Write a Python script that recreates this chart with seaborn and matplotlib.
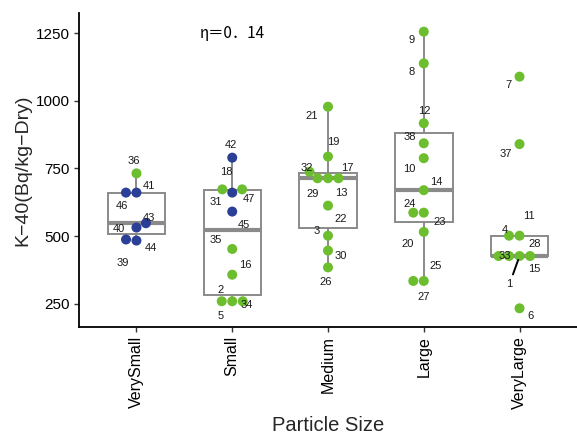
import matplotlib
matplotlib.use("Agg")
import matplotlib.pyplot as plt
import numpy as np
import pandas as pd
import seaborn as sns

# ---- data -----------------------------------------------------------------
categories = ["VerySmall", "Small", "Medium", "Large", "VeryLarge"]

sample_ids = list(range(1, 48))
sizes = [
    "VeryLarge", "Small", "Medium", "VeryLarge", "Small",            # 1-5
    "VeryLarge", "VeryLarge", "Large", "Large", "Large",             # 6-10
    "VeryLarge", "Large", "Medium", "Large", "VeryLarge",            # 11-15
    "Small", "Medium", "Small", "Medium", "Large",                   # 16-20
    "Medium", "Medium", "Large", "Large", "Large",                   # 21-25
    "Medium", "Large", "VeryLarge", "Medium", "Medium",              # 26-30
    "Small", "Medium", "VeryLarge", "Small", "Small",                # 31-35
    "VerySmall", "VeryLarge", "Large", "VerySmall", "VerySmall",     # 36-40
    "VerySmall", "Small", "VerySmall", "VerySmall", "Small",         # 41-45
    "VerySmall", "Small",                                            # 46-47
]
k40 = [
    427, 260, 502, 502, 260,
    234, 1089, 1138, 1255, 788,
    502, 917, 714, 670, 427,
    358, 714, 673, 794, 516,
    978, 613, 587, 587, 335,
    385, 335, 427, 714, 447,
    661, 738, 427, 260, 453,
    732, 840, 843, 484, 532,
    661, 790, 548, 488, 591,
    661, 673,
]
groups = [
    "A", "A", "A", "A", "A",
    "A", "A", "A", "A", "A",
    "A", "A", "A", "A", "A",
    "A", "A", "A", "A", "A",
    "A", "A", "A", "A", "A",
    "A", "A", "A", "A", "A",
    "B", "A", "A", "A", "A",
    "A", "A", "A", "B", "B",
    "B", "B", "B", "B", "B",
    "B", "A",
]
eta_text = "η＝0．14"

# ---- styling ----------------------------------------------------------------
group_colors = {"A": "#6DBE2E", "B": "#2B3F96"}
box_gray = "#8a8a8a"

# label placement around each point (pixels, x right / y up)
label_offsets = {
    36: (-3, 12), 41: (12, 7), 46: (-15, -13), 43: (12, 5),
    40: (-18, -1.5), 44: (14, -8.5), 39: (-14, -22.6),
    42: (-1, 13), 18: (-6, 17), 31: (-16, -9.4), 47: (17, -10),
    45: (12, -13.7), 35: (-16, 9), 16: (13, 9.6), 2: (-12, 11),
    34: (15, -4), 5: (-12, -14.5),
    21: (-16, -9), 19: (5, 15), 32: (-21, 3.4), 17: (19, 10.6),
    29: (-15, -16), 13: (13, -15), 22: (13, -13.7), 3: (-11, 4.8),
    30: (13, -5.3), 26: (-2, -14.5),
    9: (-12, -8), 8: (-12, -8.6), 12: (1, 12), 38: (-14, 6),
    10: (-14, -11), 14: (13, 8.5), 24: (-14, 9), 23: (16, -9.3),
    20: (-16, -12.3), 25: (12, 15), 27: (0, -16),
    7: (-11, -8.7), 37: (-14, -10.3), 11: (9, 20), 4: (-15, 5.5),
    28: (15, 12.5), 33: (-15, 0), 15: (15, -13), 1: (-10, -28),
    6: (11, -7.5),
}
leader_ids = {1}

sns.set_theme(style="ticks")
plt.rcParams["font.family"] = ["Liberation Sans", "DejaVu Sans"]

df = pd.DataFrame({"id": sample_ids, "size": sizes, "k40": k40, "group": groups})
df = df.sort_values("group", kind="stable")

fig = plt.figure(figsize=(5.77, 4.37), dpi=100)
ax = fig.add_axes([79 / 577, 1 - 327 / 437, 498 / 577, (327 - 12.7) / 437])

sns.boxplot(
    data=df, x="size", y="k40", order=categories, width=0.6,
    color="white", linecolor=box_gray, linewidth=1.4,
    showcaps=False, showfliers=False,
    medianprops={"linewidth": 3.0},
    ax=ax,
)
sns.swarmplot(
    data=df, x="size", y="k40", hue="group", order=categories,
    palette=group_colors, size=7.2, linewidth=0, legend=False,
    ax=ax, zorder=3,
)

x_index = {c: i for i, c in enumerate(categories)}
for sid, s, v in zip(sample_ids, sizes, k40):
    dx, dy = label_offsets[sid]
    kw = {}
    if sid in leader_ids:
        kw["arrowprops"] = dict(arrowstyle="-", color="black", lw=1.4,
                                shrinkA=1, shrinkB=3)
    ax.annotate(str(sid), xy=(x_index[s], v), xytext=(dx, dy),
                textcoords="offset pixels", ha="center", va="center",
                fontsize=8, color="#1a1a1a", zorder=4, **kw)

ax.text(1, 1250, eta_text, ha="center", va="center", fontsize=11,
        family=["Noto Sans CJK JP", "DejaVu Sans"], color="black")

ax.set_xlim(-0.6, 4.6)
ax.set_ylim(165, 1325)
ax.set_yticks([250, 500, 750, 1000, 1250])
ax.set_xticks(range(len(categories)))
ax.set_xticklabels(categories, rotation=90)
ax.tick_params(axis="both", labelsize=11, length=3.5, width=1,
               color="#333333", labelcolor="black", pad=3)
ax.tick_params(axis="x", labelsize=11.5)

ax.set_xlabel("Particle Size", fontsize=14.5, labelpad=5)
ax.set_ylabel("K−40(Bq/kg−Dry)", fontsize=14, labelpad=3)

for side in ("top", "right"):
    ax.spines[side].set_visible(False)
for side in ("left", "bottom"):
    ax.spines[side].set_linewidth(1.3)
    ax.spines[side].set_color("black")

fig.savefig("out.png", dpi=100, facecolor="white")
